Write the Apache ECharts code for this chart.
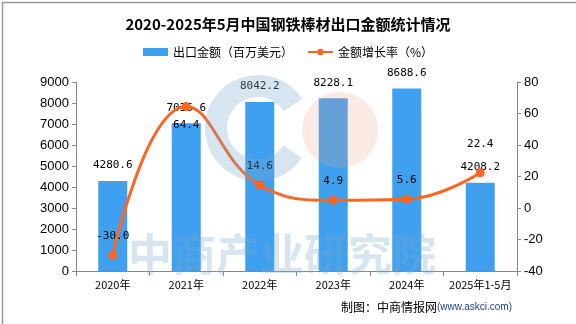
<!DOCTYPE html>
<html><head><meta charset="utf-8">
<script src="https://cdn.jsdelivr.net/npm/echarts@6/dist/echarts.min.js"></script>
<style>html,body{margin:0;padding:0;background:#fff}#c{width:576px;height:324px}</style>
</head><body><div id="c"></div>
<script>
const categories = ['2020年','2021年','2022年','2023年','2024年','2025年1-5月'];
const exportValue = [4280.6, 7036.6, 8042.2, 8228.1, 8688.6, 4208.2];
const growthRate = [-30.0, 64.4, 14.6, 4.9, 5.6, 22.4];
const leftTicks = [0, 9000, 1000];
const rightTicks = [-40, 80, 20];

const chart = echarts.init(document.getElementById('c'));
const numFont = '"DejaVu Sans Mono", monospace';
const cjk = '"Noto Sans CJK SC", "Noto Sans", sans-serif';
const lineLabelPos = ['top','bottom','top','top','top','top'];
const lineLabelOff = [[0,0],[0,0],[0,0],[0,0],[0,0],[0,-10]];

chart.setOption({
  animation: false,
  textStyle: { fontFamily: cjk },
  title: {
    text: '2020-2025年5月中国钢铁棒材出口金额统计情况',
    left: 'center', top: 12,
    textStyle: { fontSize: 15, fontWeight: 'bold', color: '#000', fontFamily: cjk }
  },
  legend: {
    top: 41, left: 'center', itemGap: 14, itemWidth: 25, itemHeight: 8,
    textStyle: { fontSize: 12, color: '#000', fontFamily: cjk },
    data: [
      { name: '出口金额（百万美元）', icon: 'rect' },
      { name: '金额增长率（%）' }
    ]
  },
  grid: { left: 76, right: 59, top: 82, bottom: 53 },
  xAxis: {
    type: 'category', data: categories,
    axisLine: { lineStyle: { color: '#888' } },
    axisTick: { show: true, lineStyle: { color: '#888' } },
    axisLabel: { color: '#000', fontSize: 11, margin: 8, interval: 0, fontFamily: cjk }
  },
  yAxis: [{
    type: 'value', min: leftTicks[0], max: leftTicks[1], interval: leftTicks[2],
    axisLine: { show: true, lineStyle: { color: '#888' } },
    axisTick: { show: true, inside: false, length: 4, lineStyle: { color: '#888' } },
    splitLine: { show: false },
    axisLabel: { color: '#000', fontSize: 13, margin: 7, formatter: v => String(v), fontFamily: 'Liberation Sans, Arial, sans-serif' }
  }, {
    type: 'value', min: rightTicks[0], max: rightTicks[1], interval: rightTicks[2],
    axisLine: { show: true, lineStyle: { color: '#888' } },
    axisTick: { show: true, length: 4, lineStyle: { color: '#888' } },
    splitLine: { show: false },
    axisLabel: { color: '#000', fontSize: 13, margin: 7, formatter: v => String(v), fontFamily: 'Liberation Sans, Arial, sans-serif' }
  }],
  series: [{
    name: '出口金额（百万美元）', type: 'bar', barWidth: 29,
    itemStyle: { color: '#3FA0F0' },
    label: { show: true, position: 'top', distance: 10, color: '#000', fontSize: 11, fontFamily: numFont,
      formatter: p => p.value.toFixed(1) },
    data: exportValue
  }, {
    name: '金额增长率（%）', type: 'line', yAxisIndex: 1, smooth: 0.45,
    symbol: 'circle', symbolSize: 9,
    itemStyle: { color: '#FF6420' },
    lineStyle: { color: '#FF6420', width: 3 },
    label: { show: true, color: '#000', fontSize: 11, fontFamily: numFont, distance: 9 },
    data: growthRate.map((v, i) => ({
      value: v,
      label: { position: lineLabelPos[i], offset: lineLabelOff[i], formatter: v.toFixed(1) }
    })),
    z: 5
  }],
  graphic: [
    { type: 'rect', left: 0, top: 0, shape: { width: 575, height: 323 }, style: { fill: 'none', stroke: '#999', lineWidth: 1.5 }, silent: true, z: 100 },
    { type: 'arc', shape: { cx: 258, cy: 128, r: 42, startAngle: 0.6, endAngle: 5.7 }, style: { stroke: 'rgba(120,170,205,0.3)', lineWidth: 22, fill: 'none' }, silent: true, z: 50 },
    { type: 'circle', shape: { cx: 340, cy: 130, r: 38 }, style: { fill: 'rgba(240,160,130,0.22)' }, silent: true, z: 50 },
    { type: 'text', left: 128, top: 232, style: { text: '中商产业研究院', fontSize: 44, fontWeight: 'bold', fill: 'rgba(120,170,205,0.3)', fontFamily: cjk }, silent: true, z: 50 },
    { type: 'text', right: 64, top: 301, style: {
        text: '{a|制图：中商情报网}{b|(www.askci.com)}',
        rich: { a: { fontSize: 12, fill: '#000', fontFamily: cjk }, b: { fontSize: 10, fill: '#1F3F8F', fontFamily: 'Liberation Sans, Arial, sans-serif' } }
      }, z: 60 }
  ]
});
</script></body></html>
